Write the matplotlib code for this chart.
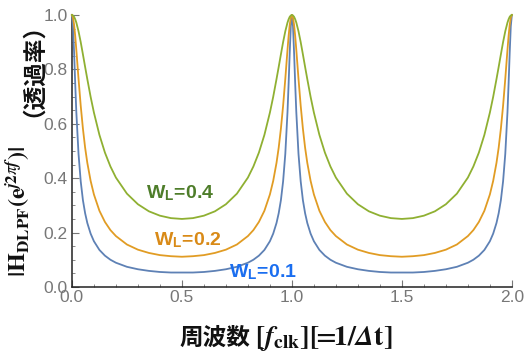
import numpy as np
import matplotlib
matplotlib.use("Agg")
import matplotlib.pyplot as plt
from matplotlib.ticker import MultipleLocator

# frequency points (in units of f_clk)
freq = [0.0, 0.005, 0.01, 0.015, 0.02, 0.03, 0.04, 0.05, 0.06, 0.07, 0.085, 0.1, 0.125, 0.15, 0.175, 0.2, 0.25, 0.3, 0.35, 0.4, 0.45, 0.5,
        0.55, 0.6, 0.65, 0.7, 0.75, 0.8, 0.825, 0.85, 0.875, 0.9, 0.915, 0.93, 0.94, 0.95, 0.96, 0.97, 0.98, 0.985, 0.99, 0.995, 1.0,
        1.005, 1.01, 1.015, 1.02, 1.03, 1.04, 1.05, 1.06, 1.07, 1.085, 1.1, 1.125, 1.15, 1.175, 1.2, 1.25, 1.3, 1.35, 1.4, 1.45, 1.5,
        1.55, 1.6, 1.65, 1.7, 1.75, 1.8, 1.825, 1.85, 1.875, 1.9, 1.915, 1.93, 1.94, 1.95, 1.96, 1.97, 1.98, 1.985, 1.99, 1.995, 2.0]

# |H| for each W_L
h_w01 = [1.0, 0.958, 0.859, 0.746, 0.643, 0.489, 0.388, 0.319, 0.271, 0.235, 0.196, 0.168, 0.136, 0.115, 0.100, 0.089, 0.074, 0.065, 0.059, 0.055, 0.053, 0.053,
         0.053, 0.055, 0.059, 0.065, 0.074, 0.089, 0.100, 0.115, 0.136, 0.168, 0.196, 0.235, 0.271, 0.319, 0.388, 0.489, 0.643, 0.746, 0.859, 0.958, 1.0,
         0.958, 0.859, 0.746, 0.643, 0.489, 0.388, 0.319, 0.271, 0.235, 0.196, 0.168, 0.136, 0.115, 0.100, 0.089, 0.074, 0.065, 0.059, 0.055, 0.053, 0.053,
         0.053, 0.055, 0.059, 0.065, 0.074, 0.089, 0.100, 0.115, 0.136, 0.168, 0.196, 0.235, 0.271, 0.319, 0.388, 0.489, 0.643, 0.746, 0.859, 0.958, 1.0]
h_w02 = [1.0, 0.990, 0.963, 0.922, 0.872, 0.765, 0.666, 0.582, 0.512, 0.456, 0.390, 0.340, 0.280, 0.239, 0.209, 0.187, 0.156, 0.137, 0.125, 0.117, 0.113, 0.111,
         0.113, 0.117, 0.125, 0.137, 0.156, 0.187, 0.209, 0.239, 0.280, 0.340, 0.390, 0.456, 0.512, 0.582, 0.666, 0.765, 0.872, 0.922, 0.963, 0.990, 1.0,
         0.990, 0.963, 0.922, 0.872, 0.765, 0.666, 0.582, 0.512, 0.456, 0.390, 0.340, 0.280, 0.239, 0.209, 0.187, 0.156, 0.137, 0.125, 0.117, 0.113, 0.111,
         0.113, 0.117, 0.125, 0.137, 0.156, 0.187, 0.209, 0.239, 0.280, 0.340, 0.390, 0.456, 0.512, 0.582, 0.666, 0.765, 0.872, 0.922, 0.963, 0.990, 1.0]
h_w04 = [1.0, 0.998, 0.993, 0.984, 0.972, 0.940, 0.900, 0.855, 0.809, 0.764, 0.699, 0.641, 0.559, 0.494, 0.443, 0.402, 0.343, 0.304, 0.278, 0.262, 0.253, 0.250,
         0.253, 0.262, 0.278, 0.304, 0.343, 0.402, 0.443, 0.494, 0.559, 0.641, 0.699, 0.764, 0.809, 0.855, 0.900, 0.940, 0.972, 0.984, 0.993, 0.998, 1.0,
         0.998, 0.993, 0.984, 0.972, 0.940, 0.900, 0.855, 0.809, 0.764, 0.699, 0.641, 0.559, 0.494, 0.443, 0.402, 0.343, 0.304, 0.278, 0.262, 0.253, 0.250,
         0.253, 0.262, 0.278, 0.304, 0.343, 0.402, 0.443, 0.494, 0.559, 0.641, 0.699, 0.764, 0.809, 0.855, 0.900, 0.940, 0.972, 0.984, 0.993, 0.998, 1.0]

labels = ["W$_\\mathregular{L}$=0.1", "W$_\\mathregular{L}$=0.2", "W$_\\mathregular{L}$=0.4"]

plt.rcParams['font.family'] = ['Liberation Sans', 'Noto Sans CJK JP', 'DejaVu Sans']
plt.rcParams['mathtext.fontset'] = 'stix'

fig = plt.figure(figsize=(5.25, 3.56), dpi=100)
ax = fig.add_axes([0.137, 0.194, 0.838, 0.764])

ax.plot(freq, h_w01, color="#5E81B5", lw=1.3, clip_on=False, zorder=3)
ax.plot(freq, h_w02, color="#E19C24", lw=1.3, clip_on=False, zorder=3)
ax.plot(freq, h_w04, color="#8FB032", lw=1.3, clip_on=False, zorder=3)

ax.set_xlim(0, 2)
ax.set_ylim(0, 1)
ax.xaxis.set_major_locator(MultipleLocator(0.5))
ax.xaxis.set_minor_locator(MultipleLocator(0.1))
ax.yaxis.set_major_locator(MultipleLocator(0.2))
ax.yaxis.set_minor_locator(MultipleLocator(0.05))
ax.xaxis.set_major_formatter(plt.FormatStrFormatter('%.1f'))
ax.yaxis.set_major_formatter(plt.FormatStrFormatter('%.1f'))

for s in ["top", "right"]:
    ax.spines[s].set_visible(False)
for s in ["left", "bottom"]:
    ax.spines[s].set_color("#222222")
    ax.spines[s].set_linewidth(1.1)

ax.tick_params(which="both", direction="in", color="#777777", labelcolor="#777777",
               labelsize=12.5)
ax.tick_params(which="major", length=5, width=0.8)
ax.tick_params(which="minor", length=2.5, width=0.6)
ax.tick_params(axis="x", pad=2)
ax.tick_params(axis="y", pad=3)

ax.text(0.49, 0.345, labels[2], color="#4E7D2A", fontsize=14, fontweight="bold",
        ha="center", va="center")
ax.text(0.527, 0.173, labels[1], color="#D98A17", fontsize=14, fontweight="bold",
        ha="center", va="center")
ax.text(0.868, 0.055, labels[0], color="#1A6EF0", fontsize=14, fontweight="bold",
        ha="center", va="center")

# x label: CJK part and math part drawn separately
fig.text(250 / 525, 1 - 345 / 356, "周波数", fontsize=17, fontweight="bold",
         family=['Noto Sans CJK JP'], ha="right", va="baseline", color="#111111")
fig.text(255 / 525, 1 - 345 / 356,
         r"$\mathbf{[}\mathbfit{f}_{\mathbf{clk}}\mathbf{][}\!\!\mathbf{=}\!\!\mathbf{1/}\mathbfit{\Delta}\mathbf{t]}$",
         fontsize=20, ha="left", va="baseline", color="#111111")

# y label: math part and CJK part, rotated
fig.text(33 / 525, 1 - 277 / 356,
         r"$\mathbf{|H}_{\mathbf{DLPF}}\mathbf{(e}^{\mathbfit{j}\mathbf{2}\pi \mathbfit{f}}\mathbf{)|}$",
         fontsize=17.5, rotation=90, ha="right", va="bottom", color="#111111")
fig.text(33 / 525, 1 - 117 / 356, "（透過率）", fontsize=17, fontweight="bold",
         family=['Noto Sans CJK JP'], rotation=90, ha="right", va="bottom", color="#111111")

fig.savefig("out.png", dpi=100)
